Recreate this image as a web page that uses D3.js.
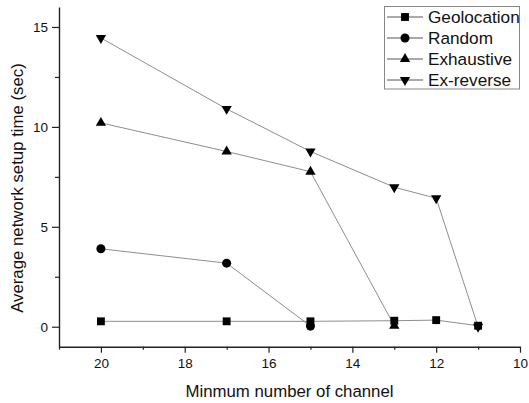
<!DOCTYPE html>
<html>
<head>
<meta charset="utf-8">
<script src="https://cdn.jsdelivr.net/npm/d3@7"></script>
<style>
  html, body { margin: 0; padding: 0; background: #fff; }
  svg { display: block; font-family: "Liberation Sans", Arial, sans-serif; }
</style>
</head>
<body>
<svg id="chart" width="529" height="403"></svg>
<script>
// Minimum number of channels (x) and average setup time per scheme (y, seconds)
const channels      = [20, 17, 15, 13, 12, 11];
const geolocation   = [0.27, 0.27, 0.27, 0.30, 0.33, 0.05];
const randomX       = [20, 17, 15];
const randomY       = [3.9, 3.18, 0.03];
const exhaustiveX   = [20, 17, 15, 13];
const exhaustiveY   = [10.2, 8.77, 7.76, 0.05];
const exReverse     = [14.45, 10.9, 8.77, 6.98, 6.43, 0.0];

const xMajorTicks = [20, 18, 16, 14, 12, 10];
const xMinorTicks = [21, 19, 17, 15, 13, 11];
const yMajorTicks = [0, 5, 10, 15];
const yMinorTicks = [2.5, 7.5, 12.5];

const seriesNames = ["Geolocation", "Random", "Exhaustive", "Ex-reverse"];

const series = [
  { name: seriesNames[0], symbol: d3.symbolSquare,   size: 62, rotate: 0,
    pts: channels.map((c, i) => [c, geolocation[i]]) },
  { name: seriesNames[1], symbol: d3.symbolCircle,   size: 64, rotate: 0,
    pts: randomX.map((c, i) => [c, randomY[i]]) },
  { name: seriesNames[2], symbol: d3.symbolTriangle, size: 46, rotate: 0,
    pts: exhaustiveX.map((c, i) => [c, exhaustiveY[i]]) },
  { name: seriesNames[3], symbol: d3.symbolTriangle, size: 46, rotate: 180,
    pts: channels.map((c, i) => [c, exReverse[i]]) }
];

const svg = d3.select("#chart");
const plotLeft = 59, plotRight = 520, plotTop = 7, plotBottom = 346.7;

const x = d3.scaleLinear().domain([21, 10]).range([plotLeft, plotRight]);
const y = d3.scaleLinear().domain([-1, 16]).range([plotBottom, plotTop]);

// Axes: major ticks with labels, minor ticks without
svg.append("g").attr("transform", `translate(0,${plotBottom})`)
  .call(d3.axisBottom(x).tickValues(xMajorTicks).tickSize(6).tickSizeOuter(0)
        .tickPadding(6).tickFormat(d3.format("d")));
svg.append("g").attr("transform", `translate(0,${plotBottom})`)
  .call(d3.axisBottom(x).tickValues(xMinorTicks).tickSize(3).tickSizeOuter(0).tickFormat(""))
  .select(".domain").remove();

svg.append("g").attr("transform", `translate(${plotLeft},0)`)
  .call(d3.axisLeft(y).tickValues(yMajorTicks).tickSize(7).tickSizeOuter(0)
        .tickPadding(4).tickFormat(d3.format("d")));
svg.append("g").attr("transform", `translate(${plotLeft},0)`)
  .call(d3.axisLeft(y).tickValues(yMinorTicks).tickSize(4).tickSizeOuter(0).tickFormat(""))
  .select(".domain").remove();

svg.selectAll(".domain").attr("stroke", "#222").attr("stroke-width", 1.4);
svg.selectAll(".tick line").attr("stroke", "#222").attr("stroke-width", 1.2);
svg.selectAll(".tick text").attr("fill", "#111")
  .style("font-size", "13.5px").style("font-family", "'Liberation Sans', Arial, sans-serif");

// Axis titles
svg.append("text")
  .attr("x", (plotLeft + plotRight) / 2).attr("y", 397)
  .attr("text-anchor", "middle").attr("fill", "#111")
  .style("font-size", "16.8px")
  .text("Minmum number of channel");

svg.append("text")
  .attr("transform", `translate(23,188) rotate(-90)`)
  .attr("text-anchor", "middle").attr("fill", "#111")
  .style("font-size", "16.8px")
  .text("Average network setup time (sec)");

// Series lines and markers
const line = d3.line().x(d => x(d[0])).y(d => y(d[1]));

series.forEach(s => {
  svg.append("path").datum(s.pts)
    .attr("d", line)
    .attr("fill", "none").attr("stroke", "#8e8e8e").attr("stroke-width", 1);
});

series.forEach(s => {
  svg.append("g").selectAll("path").data(s.pts).join("path")
    .attr("d", d3.symbol().type(s.symbol).size(s.size))
    .attr("transform", d => `translate(${x(d[0])},${y(d[1])}) rotate(${s.rotate})`)
    .attr("fill", "#000");
});

// Legend
const lg = svg.append("g");
lg.append("rect")
  .attr("x", 384.5).attr("y", 6.5).attr("width", 135).attr("height", 82.5)
  .attr("fill", "#fff").attr("stroke", "#888").attr("stroke-width", 1);

series.forEach((s, i) => {
  const cy = 17 + i * 21;
  lg.append("line").attr("x1", 387).attr("x2", 423).attr("y1", cy).attr("y2", cy)
    .attr("stroke", "#555").attr("stroke-width", 1);
  lg.append("path")
    .attr("d", d3.symbol().type(s.symbol).size(s.size)())
    .attr("transform", `translate(405,${cy}) rotate(${s.rotate})`)
    .attr("fill", "#000");
  lg.append("text").attr("x", 428).attr("y", cy + 6)
    .attr("fill", "#111").style("font-size", "17.2px")
    .text(s.name);
});
</script>
</body>
</html>
